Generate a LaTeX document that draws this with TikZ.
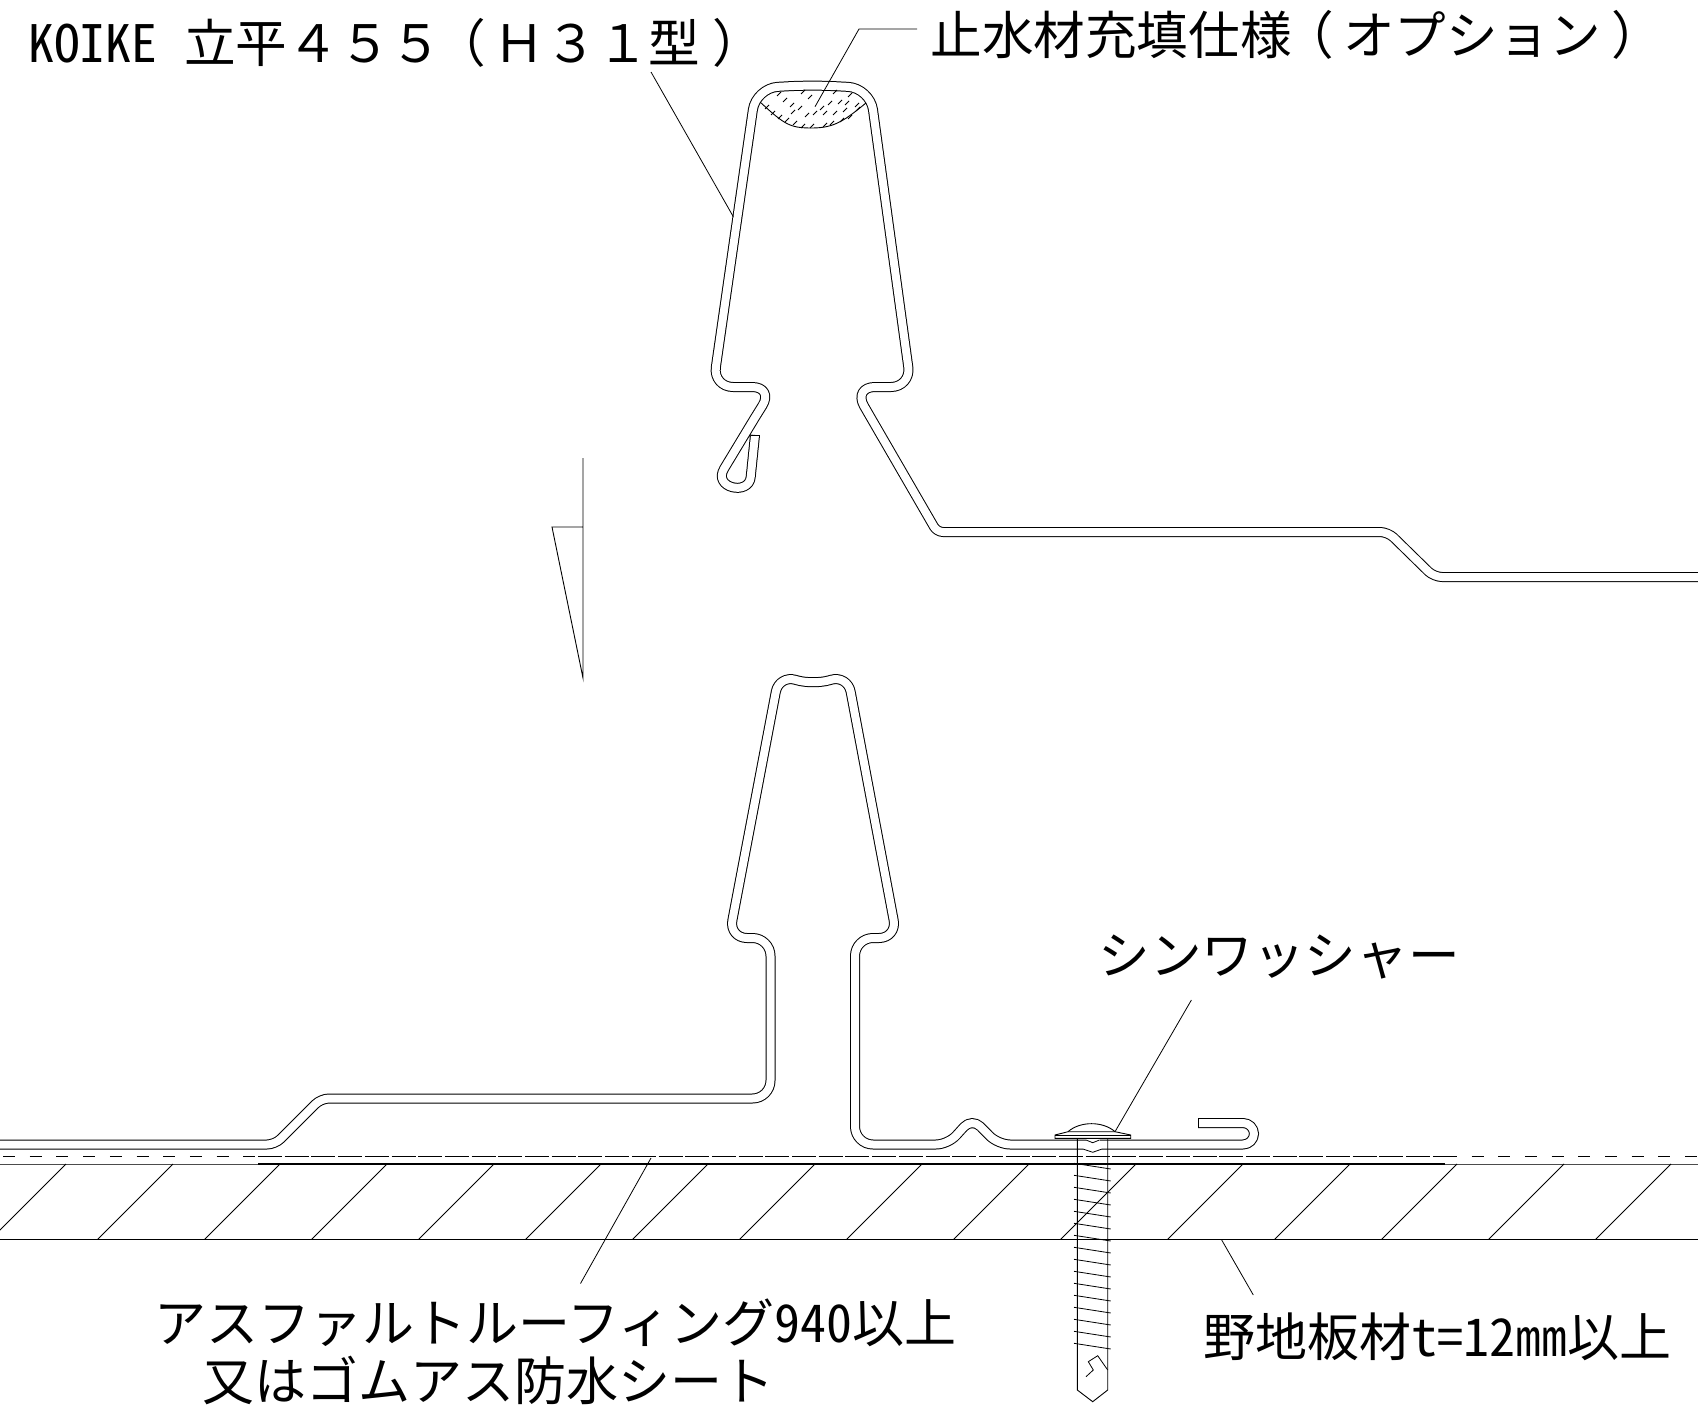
\documentclass[tikz,border=0pt]{standalone}
\usepackage{fontspec}
\setmainfont{Noto Sans CJK JP}
\newfontfamily\hwfont[RawFeature=+hwid]{Noto Sans CJK JP}
\begin{document}
\begin{tikzpicture}[x=.5pt, y=-.5pt]
            \tikzstyle{sheet} = [line width = .5pt, double, double distance = 4pt, line join = round];
            \tikzstyle{leader} = [line width = .4pt];
            \tikzstyle{thin line} = [line width = .45pt];
            \tikzstyle{note} = [inner sep = 0, anchor = base west, font = \fontsize{25.8pt}{30pt}\selectfont];
            \tikzstyle{note wide} = [note, font = \fontsize{26pt}{30pt}\selectfont];
            \useasboundingbox (0,0) rectangle (1698,1407);
            \clip (0,0) rectangle (1698,1407);
            \draw[sheet] (755,435) -- (750.7,477) .. controls (749,496) and (712,488) .. (724.3,468.3) -- (755,417.5) [rounded corners=11pt] -- (774,387) [rounded corners=10pt] -- (713,387) [rounded corners=11pt] -- (756,88) -- (812,85) -- (870,88) [rounded corners=10pt] -- (911,387) [rounded corners=11pt] -- (853,387) [rounded corners=3pt] -- (937,532) [rounded corners=4pt] -- (1388,532) -- (1434,577) -- (1698,577);
            \draw[thin line] (750.5,435) -- (759.5,435);
            \draw[sheet, rounded corners=4pt] (0,1144.5) -- (275,1144.5) -- (321,1098.5) [rounded corners=9pt] -- (770.5,1098.5) -- (770.5,938) -- (729,938) [rounded corners=8.5pt] -- (779,675) -- (813,685) -- (847.5,675) [rounded corners=9pt] -- (897,938) -- (855,938) -- (855,1144.5) [rounded corners=6pt] -- (948,1144.5) -- (972,1118) -- (998,1144.5) [rounded corners=5.5pt] -- (1254,1144.5) -- (1254,1123) [sharp corners] -- (1198,1123);
            \draw[thin line] (1198,1118.5) -- (1198,1127.5);
            \draw[thin line] (760,102) .. controls (785,125) and (790,128) .. (812,128) .. controls (835,128) and (845,120) .. (866,103);
            \foreach \x/\y in {767/107, 773/113, 780/117, 787/120, 795/123, 803/126, 812/126, 825/125, 832/123, 842/120, 850/117, 858/109,
                785/100, 792/105, 800/108, 793/112, 807/115, 815/113, 825/113, 835/113, 845/110, 857/105, 830/103, 847/103, 840/102, 822/108,
                779/94, 803/92, 810/97, 835/92, 850/95}
            {\draw[leader] (\x-2,\y+2) -- (\x+2,\y-2);}
            \draw[thin line] (583,458) -- (583,678) -- (552,527) -- (583,527);
            \draw[thin line, dash pattern=on 6pt off 7.35pt] (3,1156.3) -- (1698,1156.3);
            \draw[thin line, dash pattern=on 11.5pt off 1.85pt] (258,1156.3) -- (1456,1156.3);
            \draw[line width=.4pt, black!70] (0,1164) -- (1698,1164);
            \draw[line width=.7pt] (258,1164) -- (1445,1164);
            \draw[thin line] (0,1239.3) -- (1698,1239.3);
            \foreach \k in {0,...,15}
            {\draw[leader] (66+107*\k,1164) -- (-9.3+107*\k,1239.3);}
            \fill[white] (1086,1138.5) rectangle (1099.5,1141.5);
            \fill[white] (1083,1147.5) rectangle (1102,1150.5);
            \draw[leader] (1086,1140) -- (1092.7,1142.7) -- (1099.5,1140);
            \draw[leader] (1083,1149) -- (1092.7,1152.3) -- (1102,1149);
            \draw[thin line] (1077.3,1138.3) -- (1077.3,1390) -- (1092.7,1401.7) -- (1107.7,1390) -- (1107.7,1138.3);
            \foreach \k in {0,...,15}
            {\draw[leader] (1074,1163.3+12*\k) -- (1110.7,1169+12*\k);}
            \draw[leader] (1086,1376.7) -- (1093.3,1370) -- (1088.3,1361.7) -- (1097.7,1355.7) -- (1107.7,1370);
            \draw[thin line, fill=white] (1055,1135) -- (1068,1131.7) -- (1115,1131.7) -- (1130.7,1135) -- (1130.7,1138.3) -- (1055,1138.3) -- cycle;
            \draw[thin line] (1055,1135) -- (1130.7,1135);
            \draw[thin line] (1068,1131.7) .. controls (1080,1121) and (1103,1121) .. (1115,1131.7);
            \node[note] (title) at (28,63) {{\hwfont KOIKE}\hspace{13.5pt}立平４５５\hspace{-4pt}（\hspace{4pt}Ｈ３１型\hspace{6pt}）};
            \node[note] (filler) at (930,55) {止水材充填仕様\hspace{-4.5pt}（\hspace{4.5pt}オプション\hspace{5pt}）};
            \node[note] (washer) at (1098,974) {シンワッシャー};
            \node[note wide] (roofing) at (154,1342) {アスファルトルーフィング{\hwfont 940}以上};
            \node[note wide] (sheetname) at (202,1400) {又はゴムアス防水シート};
            \node[note wide] (board) at (1203,1356) {野地板材{\hwfont t=12}㎜以上};
            \coordinate (titleend) at (651,72);
            \coordinate (titletip) at (733.3,216.7);
            \coordinate (fillerend) at (917,29);
            \coordinate (fillerbend) at (859,29);
            \coordinate (fillertip) at (815,106.7);
            \coordinate (washerend) at (1191.4,1000);
            \coordinate (washertip) at (1115,1131.7);
            \coordinate (roofingend) at (580.5,1283.5);
            \coordinate (roofingtip) at (651,1158);
            \coordinate (boardend) at (1253.3,1295);
            \coordinate (boardtip) at (1221.7,1240);
            \draw[leader] (titleend) -- (titletip);
            \draw[leader] (fillerend) -- (fillerbend) -- (fillertip);
            \draw[leader] (washerend) -- (washertip);
            \draw[leader] (roofingend) -- (roofingtip);
            \draw[leader] (boardend) -- (boardtip);
        \end{tikzpicture}
\end{document}
